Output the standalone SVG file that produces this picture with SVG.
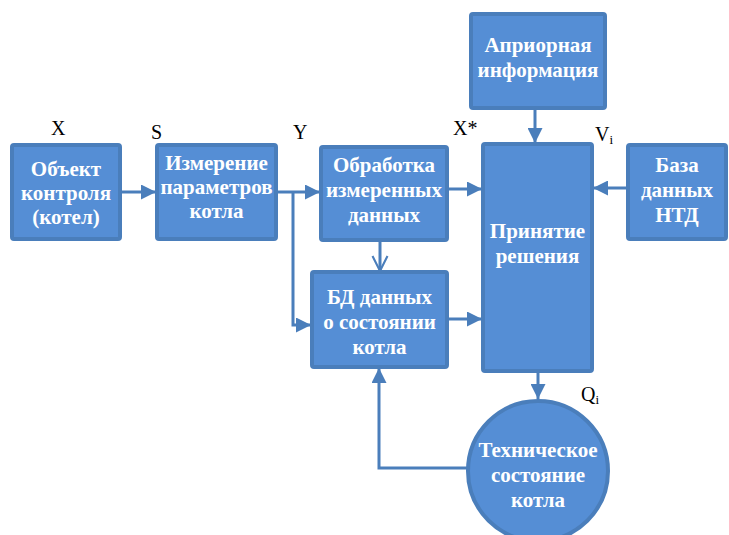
<svg xmlns="http://www.w3.org/2000/svg" width="729" height="535" viewBox="0 0 729 535">
  <style>
    .box { fill: #558ED5; stroke: #4A7EBB; stroke-width: 4; }
    .ln { fill: none; stroke: #4A7EBB; stroke-width: 3; }
  </style>
  <defs>
    <marker id="arr" viewBox="0 0 10 10" refX="10" refY="5" markerWidth="5" markerHeight="5" markerUnits="strokeWidth" orient="auto">
      <path d="M0,0 L10,5 L0,10 Z" fill="#4A7EBB"/>
    </marker>
    <marker id="open" viewBox="0 0 12 12" refX="11" refY="6" markerWidth="6" markerHeight="6" markerUnits="strokeWidth" orient="auto">
      <path d="M1,1 L11,6 L1,11" fill="none" stroke="#4A7EBB" stroke-width="1.4"/>
    </marker>
  </defs>

  <g id="connectors">
    <line class="ln" x1="120" y1="192" x2="156" y2="192" marker-end="url(#arr)"/>
    <line class="ln" x1="276" y1="192" x2="320" y2="192" marker-end="url(#arr)"/>
    <polyline class="ln" points="293,192 293,325 311,325" marker-end="url(#arr)"/>
    <line class="ln" x1="380" y1="240" x2="380" y2="271" marker-end="url(#open)"/>
    <line class="ln" x1="447" y1="189" x2="482" y2="189" marker-end="url(#arr)"/>
    <line class="ln" x1="447" y1="319" x2="482" y2="319" marker-end="url(#arr)"/>
    <line class="ln" x1="535" y1="108" x2="535" y2="143" marker-end="url(#arr)"/>
    <line class="ln" x1="628" y1="188" x2="593" y2="188" marker-end="url(#arr)"/>
    <line class="ln" x1="538" y1="371" x2="538" y2="399" marker-end="url(#arr)"/>
    <polyline class="ln" points="467,468 379,468 379,368" marker-end="url(#arr)"/>
  </g>

  <g id="object">
    <rect class="box" x="12" y="145" width="108" height="94" rx="2"/>
    <text x="66" y="176" font-family="Liberation Serif" font-weight="bold" font-size="21" fill="#FFFFFF" text-anchor="middle">Объект</text>
    <text x="66" y="200" font-family="Liberation Serif" font-weight="bold" font-size="21" fill="#FFFFFF" text-anchor="middle">контроля</text>
    <text x="66" y="224" font-family="Liberation Serif" font-weight="bold" font-size="21" fill="#FFFFFF" text-anchor="middle">(котел)</text>
  </g>

  <g id="measure">
    <rect class="box" x="157" y="145" width="119" height="94" rx="2"/>
    <text x="216.5" y="170" font-family="Liberation Serif" font-weight="bold" font-size="21" fill="#FFFFFF" text-anchor="middle">Измерение</text>
    <text x="216.5" y="194" font-family="Liberation Serif" font-weight="bold" font-size="21" fill="#FFFFFF" text-anchor="middle">параметров</text>
    <text x="216.5" y="218" font-family="Liberation Serif" font-weight="bold" font-size="21" fill="#FFFFFF" text-anchor="middle">котла</text>
  </g>

  <g id="processing">
    <rect class="box" x="321" y="147" width="126" height="93" rx="2"/>
    <text x="384" y="172" font-family="Liberation Serif" font-weight="bold" font-size="21" fill="#FFFFFF" text-anchor="middle">Обработка</text>
    <text x="384" y="197" font-family="Liberation Serif" font-weight="bold" font-size="21" fill="#FFFFFF" text-anchor="middle">измеренных</text>
    <text x="384" y="222" font-family="Liberation Serif" font-weight="bold" font-size="21" fill="#FFFFFF" text-anchor="middle">данных</text>
  </g>

  <g id="db-state">
    <rect class="box" x="312" y="272" width="135" height="95" rx="2"/>
    <text x="379.5" y="304" font-family="Liberation Serif" font-weight="bold" font-size="21" fill="#FFFFFF" text-anchor="middle">БД данных</text>
    <text x="379.5" y="329" font-family="Liberation Serif" font-weight="bold" font-size="21" fill="#FFFFFF" text-anchor="middle">о состоянии</text>
    <text x="379.5" y="354" font-family="Liberation Serif" font-weight="bold" font-size="21" fill="#FFFFFF" text-anchor="middle">котла</text>
  </g>

  <g id="apriori">
    <rect class="box" x="471" y="14" width="134" height="94" rx="2"/>
    <text x="538" y="52" font-family="Liberation Serif" font-weight="bold" font-size="21" fill="#FFFFFF" text-anchor="middle">Априорная</text>
    <text x="538" y="77" font-family="Liberation Serif" font-weight="bold" font-size="21" fill="#FFFFFF" text-anchor="middle">информация</text>
  </g>

  <g id="decision">
    <rect class="box" x="483" y="144" width="109" height="227" rx="2"/>
    <text x="537.5" y="238" font-family="Liberation Serif" font-weight="bold" font-size="21" fill="#FFFFFF" text-anchor="middle">Принятие</text>
    <text x="537.5" y="263" font-family="Liberation Serif" font-weight="bold" font-size="21" fill="#FFFFFF" text-anchor="middle">решения</text>
  </g>

  <g id="ntd">
    <rect class="box" x="628" y="145" width="98" height="94" rx="2"/>
    <text x="677" y="172" font-family="Liberation Serif" font-weight="bold" font-size="21" fill="#FFFFFF" text-anchor="middle">База</text>
    <text x="677" y="197" font-family="Liberation Serif" font-weight="bold" font-size="21" fill="#FFFFFF" text-anchor="middle">данных</text>
    <text x="677" y="222" font-family="Liberation Serif" font-weight="bold" font-size="21" fill="#FFFFFF" text-anchor="middle">НТД</text>
  </g>

  <g id="tech-state">
    <circle class="box" cx="538" cy="471" r="70"/>
    <text x="538" y="457" font-family="Liberation Serif" font-weight="bold" font-size="21" fill="#FFFFFF" text-anchor="middle">Техническое</text>
    <text x="538" y="482" font-family="Liberation Serif" font-weight="bold" font-size="21" fill="#FFFFFF" text-anchor="middle">состояние</text>
    <text x="538" y="507" font-family="Liberation Serif" font-weight="bold" font-size="21" fill="#FFFFFF" text-anchor="middle">котла</text>
  </g>

  <g id="labels" font-family="Liberation Serif" font-size="20" fill="#000000">
    <text x="51" y="135">X</text>
    <text x="151" y="139">S</text>
    <text x="293" y="139">Y</text>
    <text x="453" y="135">X*</text>
    <text x="595" y="141">V<tspan font-size="13" dy="3">i</tspan></text>
    <text x="581" y="401">Q<tspan font-size="13" dy="3">i</tspan></text>
  </g>
</svg>
